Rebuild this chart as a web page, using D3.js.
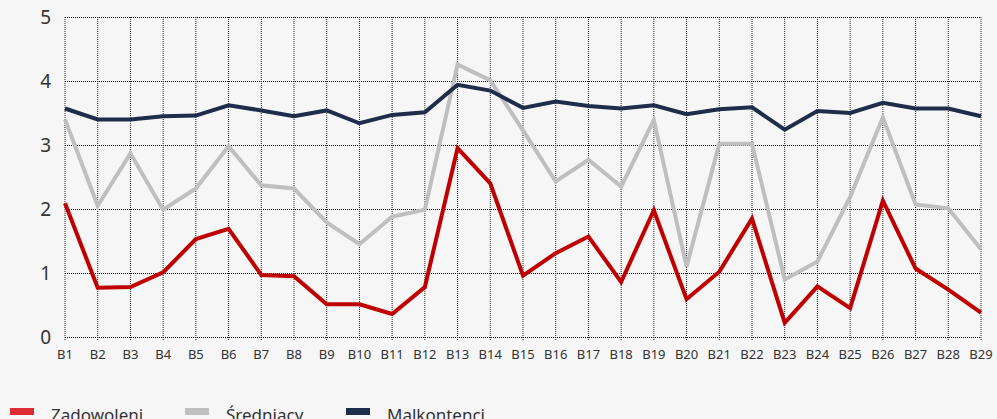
<!DOCTYPE html>
<html>
<head>
<meta charset="utf-8">
<script src="https://cdn.jsdelivr.net/npm/d3@7"></script>
<style>
    html, body { margin: 0; padding: 0; background: #f6f6f6; overflow: hidden; }
    svg { display: block; font-family: "Noto Sans", "DejaVu Sans", sans-serif; }
</style>
</head>
<body>
<div id="chart"></div>
<script>

const categories = ["B1", "B2", "B3", "B4", "B5", "B6", "B7", "B8", "B9", "B10",
    "B11", "B12", "B13", "B14", "B15", "B16", "B17", "B18", "B19", "B20",
    "B21", "B22", "B23", "B24", "B25", "B26", "B27", "B28", "B29"];

const zadowoleni = [2.09, 0.77, 0.78, 1.01, 1.53, 1.69, 0.97, 0.95, 0.51, 0.51,
    0.36, 0.78, 2.95, 2.40, 0.96, 1.31, 1.57, 0.86, 1.98, 0.59,
    1.02, 1.85, 0.22, 0.79, 0.45, 2.13, 1.07, 0.74, 0.38];

const sredniacy = [3.40, 2.05, 2.87, 1.99, 2.32, 2.98, 2.37, 2.32, 1.79, 1.45,
    1.88, 1.99, 4.26, 4.01, 3.23, 2.43, 2.77, 2.35, 3.39, 1.10,
    3.02, 3.02, 0.90, 1.18, 2.19, 3.43, 2.07, 2.01, 1.37];

const malkontenci = [3.57, 3.40, 3.40, 3.45, 3.46, 3.62, 3.54, 3.45, 3.54, 3.34,
    3.47, 3.51, 3.94, 3.85, 3.58, 3.68, 3.61, 3.57, 3.62, 3.48,
    3.56, 3.59, 3.24, 3.53, 3.50, 3.66, 3.57, 3.57, 3.45];

const yTicks = [0, 1, 2, 3, 4, 5];

const series = [
    { name: "Zadowoleni", values: zadowoleni, color: "#c00000", legend: "#dc2b32" },
    { name: "Średniacy", values: sredniacy, color: "#bfbfbf", legend: "#bfbfbf" },
    { name: "Malkontenci", values: malkontenci, color: "#1f2d4b", legend: "#1f2d4b" }
];

const width = 997, height = 419;
const margin = { top: 17, right: 16, bottom: 82, left: 65 };

const svg = d3.select("#chart")
    .append("svg")
    .attr("width", width)
    .attr("height", height)
    .style("background-color", "#f6f6f6");

const x = d3.scalePoint()
    .domain(categories)
    .range([margin.left, width - margin.right]);

const y = d3.scaleLinear()
    .domain([0, 5])
    .range([height - margin.bottom, margin.top]);

// grid
const grid = svg.append("g").attr("class", "grid");

grid.selectAll(".hgrid")
    .data(yTicks)
    .join("line")
    .attr("class", "hgrid")
    .attr("x1", x(categories[0]))
    .attr("x2", x(categories[categories.length - 1]))
    .attr("y1", d => Math.round(y(d)) + 0.5)
    .attr("y2", d => Math.round(y(d)) + 0.5)
    .attr("stroke", "#000")
    .attr("stroke-width", 1)
    .attr("stroke-dasharray", "1,1");

grid.selectAll(".vgrid")
    .data(categories)
    .join("line")
    .attr("class", "vgrid")
    .attr("x1", d => x(d))
    .attr("x2", d => x(d))
    .attr("y1", y(5))
    .attr("y2", y(0) + 3)
    .attr("stroke", "#222")
    .attr("stroke-width", 1)
    .attr("stroke-dasharray", "1,1");

// y labels
svg.append("g")
    .selectAll("text")
    .data(yTicks)
    .join("text")
    .attr("x", 51)
    .attr("y", d => y(d))
    .attr("dy", "0.36em")
    .attr("text-anchor", "end")
    .attr("fill", "#333")
    .style("font-size", "19px")
    .text(d => d);

// x labels
svg.append("g")
    .selectAll("text")
    .data(categories)
    .join("text")
    .attr("x", d => x(d))
    .attr("y", 359)
    .attr("text-anchor", "middle")
    .attr("fill", "#333")
    .style("font-size", "13px")
    .text(d => d);

// lines
const line = d3.line()
    .x((d, i) => x(categories[i]))
    .y(d => y(d));

svg.append("g")
    .selectAll("path")
    .data(series)
    .join("path")
    .attr("fill", "none")
    .attr("stroke", d => d.color)
    .attr("stroke-width", 4)
    .attr("stroke-linejoin", "miter")
    .attr("d", d => line(d.values));

// legend (cut by the bottom edge, as in the original picture)
const legendX = [10, 185, 346];
const legend = svg.append("g")
    .selectAll("g")
    .data(series)
    .join("g")
    .attr("transform", (d, i) => `translate(${legendX[i]}, 0)`);

legend.append("rect")
    .attr("x", 0)
    .attr("y", 408)
    .attr("width", 24)
    .attr("height", 7)
    .attr("fill", d => d.legend);

legend.append("text")
    .attr("x", 41)
    .attr("y", 421)
    .attr("fill", "#333")
    .style("font-size", "17px")
    .text(d => d.name);

</script>
</body>
</html>
